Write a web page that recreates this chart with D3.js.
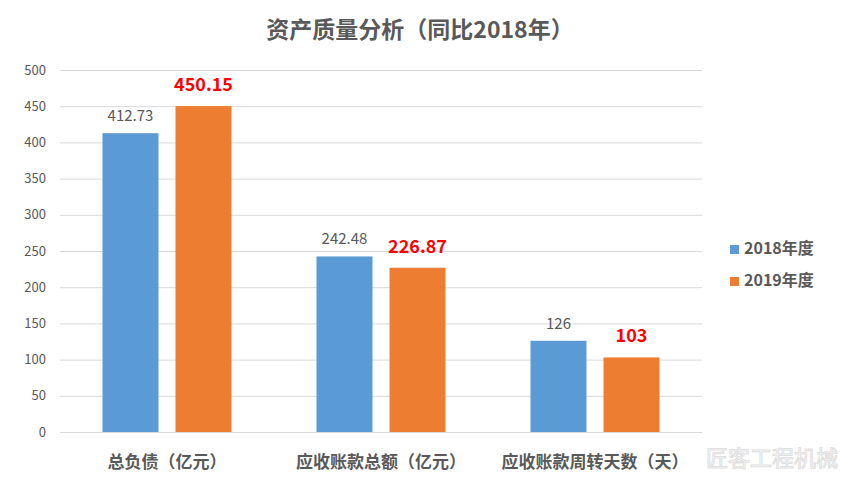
<!DOCTYPE html>
<html><head><meta charset="utf-8">
<script src="https://cdn.jsdelivr.net/npm/d3@7"></script>
<style>body{margin:0;background:#fff}svg{display:block}</style>
</head><body>
<svg id="c" width="851" height="497"></svg>
<script>
const categories = ["总负债（亿元）", "应收账款总额（亿元）", "应收账款周转天数（天）"];
const seriesNames = ["2018年度", "2019年度"];
const values2018 = [412.73, 242.48, 126];
const values2019 = [450.15, 226.87, 103];
const labels2018 = ["412.73", "242.48", "126"];
const labels2019 = ["450.15", "226.87", "103"];
const yTicks = [0, 50, 100, 150, 200, 250, 300, 350, 400, 450, 500];
const colors = ["#5b9bd5", "#ed7d31"];

const svg = d3.select("#c");
const font = "'Noto Sans CJK SC','Microsoft YaHei',sans-serif";
const L = 60, R = 702, T = 70, B = 432;

const y = d3.scaleLinear().domain([0, 500]).range([B, T]);
const x0 = d3.scaleBand().domain(categories).range([L, R]).padding(0);
const bw = x0.bandwidth();
const x1 = d3.scaleBand().domain(seriesNames).range([bw/2 - 64.5, bw/2 + 64.5]).paddingInner(0.233).paddingOuter(0);

// title
svg.append("text").attr("x", 420).attr("y", 38).attr("text-anchor", "middle")
  .attr("font-family", font).attr("font-size", 23).attr("font-weight", "bold").attr("fill", "#595959")
  .text("资产质量分析（同比2018年）");

// grid + y axis
const yAxis = d3.axisLeft(y).tickValues(yTicks).tickSize(-(R - L)).tickPadding(14);
const gy = svg.append("g").attr("transform", `translate(${L},0)`).call(yAxis);
gy.select(".domain").remove();
gy.selectAll(".tick line").attr("stroke", "#d9d9d9").attr("stroke-width", 1);
gy.selectAll(".tick text").attr("font-family", font).attr("font-size", 13).attr("fill", "#595959");

// bars
const data = categories.map((c, i) => ({c, v: [values2018[i], values2019[i]], l: [labels2018[i], labels2019[i]]}));
const g = svg.selectAll(".grp").data(data).join("g").attr("transform", d => `translate(${x0(d.c)},0)`);
g.selectAll("rect").data(d => d.v.map((v, k) => ({s: seriesNames[k], v, k})))
  .join("rect")
  .attr("x", d => x1(d.s)).attr("width", x1.bandwidth())
  .attr("y", d => y(d.v)).attr("height", d => y(0) - y(d.v))
  .attr("fill", d => colors[d.k]);

// data labels
g.selectAll("text.lbl").data(d => d.v.map((v, k) => ({s: seriesNames[k], v, k, l: d.l[k]})))
  .join("text").attr("class", "lbl")
  .attr("x", d => x1(d.s) + x1.bandwidth()/2)
  .attr("y", d => y(d.v) - (d.k === 0 ? 12 : 15))
  .attr("text-anchor", "middle")
  .attr("font-family", font)
  .attr("font-size", d => d.k === 0 ? 15 : 18)
  .attr("font-weight", d => d.k === 0 ? "normal" : "bold")
  .attr("fill", d => d.k === 0 ? "#595959" : "#ff0000")
  .text(d => d.l);

// x axis labels
const xAxis = d3.axisBottom(x0).tickSize(0).tickPadding(24);
const gx = svg.append("g").attr("transform", `translate(0,${B})`).call(xAxis);
gx.select(".domain").attr("stroke", "#d9d9d9");
gx.selectAll(".tick text").attr("font-family", font).attr("font-size", 17).attr("font-weight", "bold").attr("fill", "#595959");

// watermark
svg.append("text").attr("x", 838).attr("y", 466).attr("text-anchor", "end")
  .attr("font-family", font).attr("font-size", 22).attr("fill", "none")
  .attr("stroke", "#e0e0e0").attr("stroke-width", 1)
  .text("匠客工程机械");

// legend
const lg = svg.append("g").attr("transform", "translate(730,254)");
seriesNames.forEach((s, i) => {
  const row = lg.append("g").attr("transform", `translate(0,${i * 32})`);
  row.append("rect").attr("x", 0).attr("y", -9).attr("width", 9).attr("height", 9).attr("fill", colors[i]);
  row.append("text").attr("x", 14).attr("y", 0).attr("font-family", font).attr("font-size", 16)
    .attr("font-weight", "bold").attr("fill", "#595959").text(s);
});
</script>
</body></html>
